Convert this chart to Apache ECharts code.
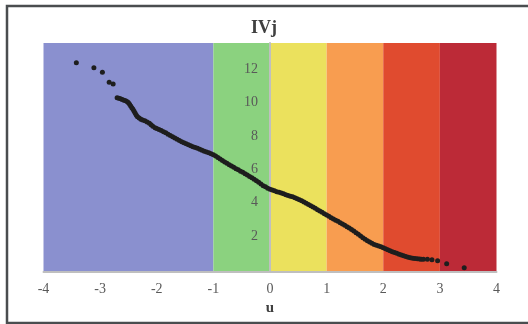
<!DOCTYPE html>
<html><head><meta charset="utf-8">
<script src="https://cdn.jsdelivr.net/npm/echarts@6/dist/echarts.min.js"></script>
<style>html,body{margin:0;padding:0;background:#fff}#c{width:528px;height:324px}</style>
</head><body><div id="c"></div>
<script>
const titleText = 'IVj';
const xName = 'u';
const yTicks = [2, 4, 6, 8, 10, 12];
const bandEdges = [-4, -1, 0, 1, 2, 3, 4];
const bandColors = ['#8a90cf', '#8bd27f', '#ebe15d', '#f89d50', '#e04b2f', '#bc2a37'];
const uValues = [-3.42,-3.11,-2.96,-2.84,-2.77,
-2.70,-2.67,-2.64,-2.61,-2.58,-2.55,-2.52,-2.50,-2.48,-2.46,-2.44,-2.42,-2.40,-2.38,-2.36,-2.34,-2.31,-2.28,-2.25,-2.21,-2.17,-2.13,-2.10,-2.07,-2.03,-2.00,
-1.96,-1.92,-1.88,-1.84,-1.80,-1.76,-1.72,-1.68,-1.64,-1.60,-1.56,-1.52,-1.48,-1.44,-1.40,-1.36,-1.32,-1.28,-1.24,-1.20,-1.16,-1.12,-1.08,-1.04,-1.00,
-0.96,-0.92,-0.88,-0.84,-0.80,-0.76,-0.72,-0.68,-0.64,-0.60,-0.56,-0.52,-0.48,-0.44,-0.40,-0.36,-0.32,-0.28,-0.24,-0.20,-0.16,-0.12,-0.08,-0.04,0.00,
0.04,0.08,0.12,0.16,0.20,0.24,0.28,0.32,0.36,0.40,0.44,0.48,0.52,0.56,0.60,0.64,0.68,0.72,0.76,0.80,0.84,0.88,0.92,0.96,1.00,
1.04,1.08,1.12,1.16,1.20,1.24,1.28,1.32,1.36,1.40,1.44,1.48,1.52,1.56,1.60,1.64,1.68,1.72,1.76,1.80,1.84,1.88,1.92,1.96,2.00,
2.04,2.08,2.12,2.16,2.20,2.24,2.28,2.32,2.36,2.40,2.44,2.48,2.52,2.56,2.60,2.64,2.67,2.71,2.78,2.86,2.96,3.12,3.43];
const ivjValues = [12.39,12.09,11.82,11.22,11.12,
10.30,10.27,10.24,10.19,10.15,10.11,10.06,10.00,9.90,9.80,9.70,9.60,9.48,9.36,9.25,9.16,9.08,9.01,8.96,8.91,8.84,8.76,8.67,8.58,8.50,8.45,
8.39,8.33,8.26,8.19,8.11,8.03,7.95,7.88,7.80,7.73,7.66,7.59,7.53,7.47,7.41,7.36,7.31,7.26,7.20,7.14,7.09,7.04,6.99,6.94,6.88,
6.80,6.71,6.62,6.53,6.44,6.36,6.28,6.20,6.12,6.04,5.97,5.89,5.82,5.74,5.66,5.57,5.49,5.41,5.32,5.22,5.12,5.02,4.95,4.87,4.81,
4.76,4.71,4.66,4.62,4.58,4.53,4.48,4.43,4.39,4.35,4.30,4.24,4.18,4.11,4.04,3.96,3.89,3.82,3.74,3.66,3.58,3.50,3.42,3.34,3.26,
3.18,3.10,3.02,2.95,2.88,2.80,2.72,2.64,2.56,2.48,2.39,2.30,2.20,2.10,2.00,1.90,1.81,1.72,1.64,1.56,1.49,1.44,1.40,1.35,1.30,
1.24,1.18,1.12,1.06,1.01,0.96,0.91,0.86,0.81,0.77,0.73,0.70,0.67,0.65,0.64,0.62,0.61,0.60,0.60,0.58,0.52,0.34,0.10];

const font = '"Liberation Serif", "DejaVu Serif", serif';
const chart = echarts.init(document.getElementById('c'), null, {renderer: 'canvas'});
const bands = [];
for (let i = 0; i < bandColors.length; i++) {
  bands.push([{xAxis: bandEdges[i], itemStyle: {color: bandColors[i], opacity: 1}}, {xAxis: bandEdges[i + 1]}]);
}
chart.setOption({
  animation: false,
  title: {text: titleText, left: 'center', top: 14, textStyle: {fontFamily: font, fontSize: 18, fontWeight: 'bold', color: '#404040'}},
  grid: {left: 43.5, right: 31.5, top: 43, bottom: 52, containLabel: false},
  xAxis: {
    type: 'value', min: -4, max: 4, interval: 1, z: 3,
    name: xName, nameLocation: 'middle', nameGap: 26,
    nameTextStyle: {fontFamily: font, fontSize: 15, fontWeight: 'bold', color: '#404040'},
    axisLine: {onZero: false, lineStyle: {color: '#bfbfbf', width: 2}},
    axisTick: {show: false}, splitLine: {show: false},
    axisLabel: {fontFamily: font, fontSize: 14, color: '#595959', margin: 10}
  },
  yAxis: {
    type: 'value', min: -0.16, max: 13.58, position: 'left', offset: -226.5, z: 3,
    axisLine: {show: true, onZero: false, lineStyle: {color: '#bfbfbf', width: 2}},
    axisTick: {show: false}, splitLine: {show: false},
    axisLabel: {customValues: yTicks, fontFamily: font, fontSize: 14, color: '#595959', margin: 12}
  },
  series: [
    {type: 'scatter', data: [], silent: true, markArea: {silent: true, data: bands}, z: 1},
    {type: 'scatter', data: uValues.map((u, i) => [u, ivjValues[i]]), symbolSize: 5,
     itemStyle: {color: '#1e1e1e', opacity: 1}, z: 5}
  ],
  graphic: [{type: 'rect', shape: {x: 7, y: 6, width: 540, height: 317}, style: {fill: null, stroke: '#4a4d4f', lineWidth: 2.5}, z: 100}]
});
</script></body></html>
